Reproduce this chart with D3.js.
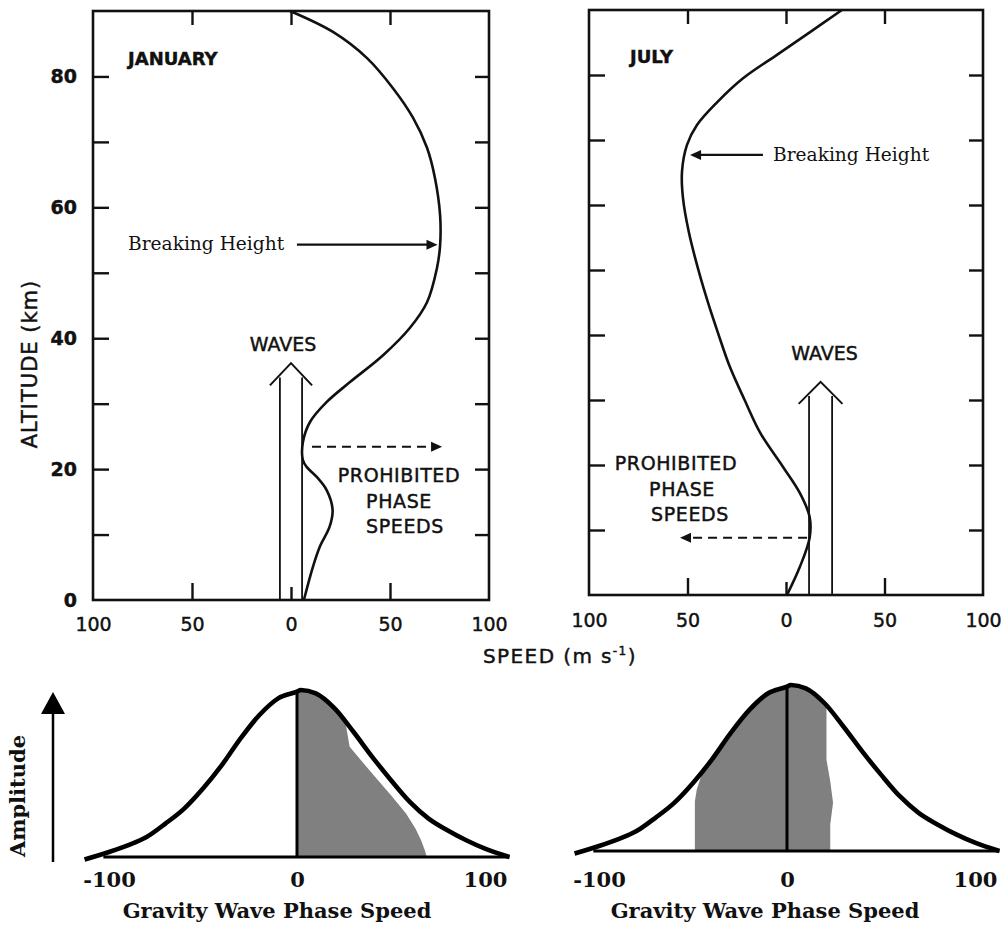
<!DOCTYPE html>
<html>
<head>
<meta charset="utf-8">
<script src="https://cdn.jsdelivr.net/npm/d3@7/dist/d3.min.js"></script>
<style>
  body { margin: 0; background: #fff; }
  svg { display: block; }
  .sans { font-family: "DejaVu Sans", sans-serif; fill: #111; stroke: #111; stroke-width: 0.45px; }
  .serif { font-family: "DejaVu Serif", serif; fill: #111; }
</style>
</head>
<body>
<div id="chart"></div>
<script>
// mean zonal wind profiles (altitude km, speed m/s, eastward positive)
var janAlt  = [0, 5, 8.1, 11.2, 13.8, 16.8, 18.8, 20.3, 21.4, 24.1, 27.2, 30.3, 33.3, 37.4, 41.6, 45.5, 50.7, 54.2, 58.8, 64.5, 69.1, 73.7, 78.2, 82.8, 86.8, 90];
var janWind = [6.5, 11, 14.5, 19.5, 21, 18, 13, 8, 6, 6, 9.6, 18.2, 29.8, 46.5, 60.1, 68.7, 73.7, 75.3, 75.3, 72.7, 68.7, 61.6, 51.5, 38.4, 21.2, -0.5];
var julAlt  = [0, 4.3, 8.8, 12, 15.7, 19.7, 24.9, 30, 35.1, 40.3, 44.9, 49.7, 55.8, 61.1, 65.1, 69.2, 72.3, 75.8, 79.5, 83.1, 86.6, 90];
var julWind = [0.5, 7, 12, 12, 7, -1.5, -13, -21, -28.5, -34.5, -39.5, -44.2, -49.3, -52.3, -52.8, -50.3, -45.2, -35, -21.8, -4.6, 12.2, 28.4];

// annotations (speed m/s, altitude km)
var janWaves = [-5.6, 5.6], julWaves = [11.7, 23.4];
var janBreak = {alt: 54.3, from: 3, to: 74};
var julBreak = {alt: 67.7, from: -11.7, to: -48.7};
var janProhibited = {alt: 23.4, from: 10.6, to: 76.3};
var julProhibited = {alt: 8.8, from: 10.7, to: -53.8};

var altTicks = [10, 20, 30, 40, 50, 60, 70, 80];
var altLabels = [0, 20, 40, 60, 80];
var speedLabels = [-100, -50, 0, 50, 100];

// gravity wave phase speed spectrum (same for both months)
var specSpeed = [-113, -100, -90, -80, -70, -60, -50, -40, -30, -20, -10, 0, 2, 10, 20, 30, 40, 50, 60, 70, 80, 90, 100, 113];
var specAmp   = [-0.015, 0.03, 0.07, 0.12, 0.2, 0.29, 0.41, 0.55, 0.71, 0.85, 0.95, 0.99, 1.0, 0.98, 0.89, 0.75, 0.6, 0.46, 0.33, 0.23, 0.16, 0.1, 0.05, 0.0];
var baseSpan = [-103, 113];
// shaded part of the spectrum that survives to breaking height
var janFillSpeed = [0, 0, 2, 5, 10, 15, 20, 23, 26, 28, 40, 50, 58, 63, 66, 68, 69];
var janFillAmp   = [0, 0.99, 1.0, 1.0, 0.98, 0.94, 0.89, 0.84, 0.79, 0.66, 0.50, 0.37, 0.26, 0.17, 0.10, 0.04, 0];
var julFillSpeed = [-49, -49, -48, -46, -44, -40, -30, -20, -10, 0, 2, 10, 15, 21, 21, 23, 24.5, 23, 23];
var julFillAmp   = [0, 0.30, 0.37, 0.44, 0.49, 0.55, 0.71, 0.85, 0.95, 0.99, 1.0, 0.98, 0.94, 0.87, 0.55, 0.42, 0.29, 0.16, 0];
var specLabels = [-100, 0, 100];

var svg = d3.select("#chart").append("svg")
    .attr("width", 1001)
    .attr("height", 926);

function zip(a, b) { return a.map(function(v, i) { return [v, b[i]]; }); }

function profilePanel(o) {
  var x = d3.scaleLinear().domain([-100, 100]).range(o.xr);
  var y = d3.scaleLinear().domain([0, 90]).range(o.yr);
  var g = svg.append("g");

  // frame
  g.append("rect")
    .attr("x", x(-100)).attr("y", y(90))
    .attr("width", x(100) - x(-100)).attr("height", y(0) - y(90))
    .attr("fill", "none").attr("stroke", "#111").attr("stroke-width", 2.6);

  function ticks(axis, tr) {
    var a = g.append("g").attr("transform", tr).call(axis);
    a.select(".domain").remove();
    a.selectAll("line").attr("stroke", "#111").attr("stroke-width", 2.4);
    return a;
  }
  ticks(d3.axisLeft(y).tickValues(altTicks).tickSizeInner(-16).tickSizeOuter(0).tickFormat(""),
        "translate(" + x(-100) + ",0)");
  ticks(d3.axisRight(y).tickValues(altTicks).tickSizeInner(-14).tickSizeOuter(0).tickFormat(""),
        "translate(" + x(100) + ",0)");
  ticks(d3.axisTop(x).tickValues([-50, 0, 50]).tickSizeInner(-14).tickSizeOuter(0).tickFormat(""),
        "translate(0," + y(90) + ")");
  ticks(d3.axisBottom(x).tickValues([-50, 50]).tickSizeInner(-17).tickSizeOuter(0).tickFormat(""),
        "translate(0," + y(0) + ")");
  ticks(d3.axisBottom(x).tickValues([0]).tickSizeInner(-13).tickSizeOuter(0).tickFormat(""),
        "translate(0," + y(0) + ")");

  var xl = g.append("g").attr("transform", "translate(0," + y(0) + ")")
    .call(d3.axisBottom(x).tickValues(speedLabels).tickSize(0).tickPadding(o.xpad)
      .tickFormat(function(d) { return Math.abs(d); }));
  xl.select(".domain").remove();
  xl.selectAll("text").attr("class", "sans").style("font-size", "19px").attr("fill", "#111");

  if (o.yLabels) {
    var yl = g.append("g").attr("transform", "translate(" + x(-100) + ",0)")
      .call(d3.axisLeft(y).tickValues(altLabels).tickSize(0).tickPadding(16));
    yl.select(".domain").remove();
    yl.selectAll("text").attr("class", "sans").style("font-size", "19px")
      .style("font-weight", "bold").attr("fill", "#111");
  }

  // wind profile
  g.append("path")
    .datum(zip(o.wind, o.alt))
    .attr("d", d3.line().x(function(d) { return x(d[0]); }).y(function(d) { return y(d[1]); })
      .curve(d3.curveCatmullRom.alpha(0.5)))
    .attr("fill", "none").attr("stroke", "#111").attr("stroke-width", 2.6);

  // waves arrow
  var w = o.waves, wc = (w[0] + w[1]) / 2, ww = (w[1] - w[0]);
  o.waves.forEach(function(s) {
    g.append("line").attr("x1", x(s)).attr("x2", x(s))
      .attr("y1", y(0)).attr("y2", y(o.waveTop - 2.2))
      .attr("stroke", "#111").attr("stroke-width", 1.8);
  });
  g.append("polyline")
    .attr("points", [[x(w[0] - ww * 0.45), y(o.waveTop - 3.4)], [x(wc), y(o.waveTop)], [x(w[1] + ww * 0.45), y(o.waveTop - 3.4)]].join(" "))
    .attr("fill", "none").attr("stroke", "#111").attr("stroke-width", 2);
  g.append("text").attr("class", "sans").attr("x", x(wc) + o.wavesDx).attr("y", y(o.waveTop) - o.wavesDy)
    .attr("text-anchor", "middle").style("font-size", "19px").text("WAVES");

  // breaking height arrow
  var b = o.brk, dirB = b.to > b.from ? 1 : -1;
  g.append("line").attr("x1", x(b.from)).attr("x2", x(b.to) - dirB * 8)
    .attr("y1", y(b.alt)).attr("y2", y(b.alt))
    .attr("stroke", "#111").attr("stroke-width", 2.2);
  g.append("path")
    .attr("d", "M" + x(b.to) + "," + y(b.alt) + "l" + (-dirB * 11) + ",-5v10z")
    .attr("fill", "#111");
  g.append("text").attr("class", "serif").attr("x", o.brkText[0]).attr("y", o.brkText[1])
    .style("font-size", "18.6px").text("Breaking Height");

  // prohibited phase speeds arrow (dashed)
  var p = o.proh, dirP = p.to > p.from ? 1 : -1;
  g.append("line").attr("x1", x(p.from)).attr("x2", x(p.to) - dirP * 8)
    .attr("y1", y(p.alt)).attr("y2", y(p.alt))
    .attr("stroke", "#111").attr("stroke-width", 2).attr("stroke-dasharray", "9,6");
  g.append("path")
    .attr("d", "M" + x(p.to) + "," + y(p.alt) + "l" + (-dirP * 11) + ",-5v10z")
    .attr("fill", "#111");
  var pt = g.append("text").attr("class", "sans").attr("text-anchor", "middle")
    .style("font-size", "19px").style("letter-spacing", "0.6px");
  ["PROHIBITED", "PHASE", "SPEEDS"].forEach(function(s, i) {
    pt.append("tspan").attr("x", o.prohText[0] + o.prohShift[i]).attr("y", o.prohText[1] + i * 25.5).text(s);
  });

  g.append("text").attr("class", "sans").attr("x", o.title[0]).attr("y", o.title[1])
    .style("font-size", "18px").style("font-weight", "bold").text(o.name);
}

profilePanel({
  name: "JANUARY", xr: [93, 489], yr: [600, 11], alt: janAlt, wind: janWind,
  waves: janWaves, waveTop: 36.2, wavesDx: -8, wavesDy: 12,
  brk: janBreak, brkText: [128, 250],
  proh: janProhibited, prohText: [399, 482], prohShift: [0, 0, 6],
  title: [128, 65], yLabels: true, xpad: 18
});
profilePanel({
  name: "JULY", xr: [589, 983], yr: [595, 10], alt: julAlt, wind: julWind,
  waves: julWaves, waveTop: 32.8, wavesDx: 4, wavesDy: 22,
  brk: julBreak, brkText: [773, 161],
  proh: julProhibited, prohText: [676, 470], prohShift: [0, 6, 14],
  title: [630, 63], yLabels: false, xpad: 19
});

// shared axis titles of the profiles
svg.append("text").attr("class", "sans")
  .attr("transform", "translate(37,364) rotate(-90)")
  .attr("text-anchor", "middle").style("font-size", "21px").style("letter-spacing", "1px")
  .text("ALTITUDE (km)");
var sp = svg.append("text").attr("class", "sans").attr("x", 483).attr("y", 663)
  .style("font-size", "20px").style("letter-spacing", "1.4px");
sp.append("tspan").text("SPEED  (m s");
sp.append("tspan").attr("dy", -8).style("font-size", "12px").text("-1");
sp.append("tspan").attr("dy", 8).text(")");

// spectrum panels
function spectrumPanel(o) {
  var x = d3.scaleLinear().domain([-100, 100]).range(o.xr);
  var y = d3.scaleLinear().domain([0, 1]).range(o.yr);
  var g = svg.append("g");
  var line = d3.line().x(function(d) { return x(d[0]); }).y(function(d) { return y(d[1]); });

  g.append("path").datum(zip(o.fillSpeed, o.fillAmp))
    .attr("d", line.curve(d3.curveLinear))
    .attr("fill", "#808080").attr("stroke", "none");

  g.append("line").attr("x1", x(baseSpan[0])).attr("x2", x(baseSpan[1]))
    .attr("y1", y(0)).attr("y2", y(0)).attr("stroke", "#000").attr("stroke-width", 3);
  g.append("line").attr("x1", x(0)).attr("x2", x(0))
    .attr("y1", y(0) + 1).attr("y2", y(1)).attr("stroke", "#000").attr("stroke-width", 3);

  g.append("path").datum(zip(specSpeed, specAmp))
    .attr("d", d3.line().x(function(d) { return x(d[0]); }).y(function(d) { return y(d[1]); })
      .curve(d3.curveMonotoneX))
    .attr("fill", "none").attr("stroke", "#000").attr("stroke-width", 4.6);

  var ax = g.append("g").attr("transform", "translate(0," + y(0) + ")")
    .call(d3.axisBottom(x).tickValues(specLabels).tickSize(0).tickFormat(d3.format("d")));
  ax.select(".domain").remove();
  ax.selectAll("text").attr("class", "serif").attr("y", o.labelDy).attr("dy", 0)
    .style("font-size", "21px").style("font-weight", "bold").attr("fill", "#000")
    .text(function(d) { return d < 0 ? "-" + Math.abs(d) : d; });

  g.append("text").attr("class", "serif").attr("x", o.title[0]).attr("y", o.title[1])
    .attr("text-anchor", "middle").style("font-size", "21px").style("font-weight", "bold")
    .attr("fill", "#000").text("Gravity Wave Phase Speed");
}

spectrumPanel({ xr: [109, 485], yr: [857, 690], fillSpeed: janFillSpeed, fillAmp: janFillAmp,
  labelDy: 30, title: [277, 918] });
spectrumPanel({ xr: [599, 975], yr: [851, 685], fillSpeed: julFillSpeed, fillAmp: julFillAmp,
  labelDy: 36, title: [765, 918] });

// amplitude axis arrow
svg.append("line").attr("x1", 53).attr("x2", 53).attr("y1", 862).attr("y2", 712)
  .attr("stroke", "#000").attr("stroke-width", 2.5);
svg.append("path").attr("d", "M53,692L65,714L41,714Z").attr("fill", "#000");
svg.append("text").attr("class", "serif")
  .attr("transform", "translate(25,796) rotate(-90)")
  .attr("text-anchor", "middle").style("font-size", "21px").style("font-weight", "bold")
  .attr("fill", "#000").text("Amplitude");
</script>
</body>
</html>
